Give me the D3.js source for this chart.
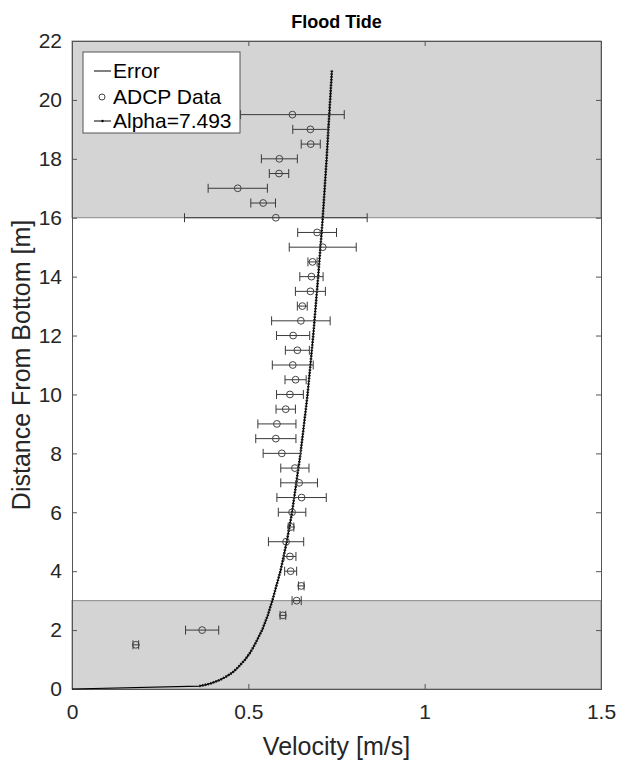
<!DOCTYPE html>
<html>
<head>
<meta charset="utf-8">
<script src="https://cdn.jsdelivr.net/npm/d3@7"></script>
<style>
  html, body { margin: 0; padding: 0; background: #fff; }
  svg { display: block; font-family: "Liberation Sans", Arial, sans-serif; }
</style>
</head>
<body>
<svg id="chart" width="621" height="760"></svg>
<script>
// ---- data ----
const heights = [19.5,19,18.5,18,17.5,17,16.5,16,15.5,15,14.5,14,13.5,13,12.5,12,11.5,11,10.5,10,9.5,9,8.5,8,7.5,7,6.5,6,5.5,5,4.5,4,3.5,3,2.5,2,1.5];
const velocity = [0.625,0.676,0.677,0.588,0.587,0.470,0.542,0.578,0.695,0.711,0.682,0.679,0.676,0.653,0.649,0.627,0.639,0.626,0.634,0.618,0.606,0.581,0.578,0.595,0.632,0.644,0.651,0.624,0.621,0.607,0.618,0.620,0.650,0.637,0.598,0.369,0.181];
const velError = [0.147,0.05,0.027,0.051,0.0275,0.084,0.035,0.259,0.055,0.095,0.013,0.033,0.0425,0.014,0.083,0.047,0.034,0.058,0.030,0.038,0.0275,0.054,0.057,0.053,0.040,0.052,0.070,0.039,0.008,0.050,0.017,0.017,0.008,0.013,0.008,0.047,0.008];

// fitted profile (Alpha = 7.493)
const profileZ = [0,0.1,0.15,0.2,0.3,0.4,0.5,0.6,0.75,1,1.25,1.5,2,2.5,3,4,5,6,8,10,12,14,16,18,20,21];
const profileU = [0,0.361,0.381,0.396,0.418,0.434,0.448,0.459,0.472,0.491,0.506,0.518,0.539,0.555,0.568,0.591,0.609,0.624,0.648,0.668,0.684,0.698,0.711,0.722,0.732,0.737];

// shaded (excluded) bands
const bands = [[16,22],[0,3]];

const xTicks = [0,0.5,1,1.5];
const yTicks = [0,2,4,6,8,10,12,14,16,18,20,22];

const title = "Flood Tide";
const xLabel = "Velocity [m/s]";
const yLabel = "Distance From Bottom [m]";
const legendLabels = ["Error","ADCP Data","Alpha=7.493"];

// ---- layout ----
const svg = d3.select("#chart");
const L = 72, R = 601, T = 41, B = 689;
const x = d3.scaleLinear().domain([0,1.5]).range([L,R]);
const y = d3.scaleLinear().domain([0,22]).range([B,T]);

// bands
svg.append("g").selectAll("rect").data(bands).join("rect")
  .attr("x", x(0)).attr("width", x(1.5)-x(0))
  .attr("y", d => y(d[1])).attr("height", d => y(d[0]) - y(d[1]))
  .attr("fill", "#d4d4d4").attr("stroke", "#8a8a8a").attr("stroke-width", 1);

// axes (ticks inside, box)
const fmt = d => d3.format("")(d);
const axB = d3.axisBottom(x).tickValues(xTicks).tickSize(-5).tickPadding(15).tickFormat(fmt);
const axT = d3.axisTop(x).tickValues(xTicks).tickSize(-5).tickFormat("");
const axLft = d3.axisLeft(y).tickValues(yTicks).tickSize(-5).tickPadding(10).tickFormat(fmt);
const axRt = d3.axisRight(y).tickValues(yTicks).tickSize(-5).tickFormat("");

function styleAxis(g){
  g.select(".domain").attr("stroke","#555");
  g.selectAll(".tick line").attr("stroke","#555");
  g.selectAll(".tick text").attr("fill","#262626").attr("font-size", 21)
    .attr("font-family", "'Liberation Sans', Arial, sans-serif");
}
svg.append("g").attr("transform",`translate(0,${B})`).call(axB).call(styleAxis);
svg.append("g").attr("transform",`translate(0,${T})`).call(axT).call(styleAxis);
svg.append("g").attr("transform",`translate(${L},0)`).call(axLft).call(styleAxis);
svg.append("g").attr("transform",`translate(${R},0)`).call(axRt).call(styleAxis);

// profile curve
const line = d3.line().x((d,i) => x(profileU[i])).y((d,i) => y(profileZ[i])).curve(d3.curveLinear);
svg.append("path").datum(profileZ).attr("d", line)
  .attr("fill","none").attr("stroke","#000").attr("stroke-width",1.2);
svg.append("path").datum(profileZ.slice(1)).attr("d", d3.line().x((d,i) => x(profileU[i+1])).y(d => y(d)))
  .attr("fill","none").attr("stroke","#111").attr("stroke-width",2.6).attr("stroke-dasharray","1.4,1.4");

// error bars
const eb = svg.append("g").attr("stroke","#3a3a3a").attr("stroke-width",1);
heights.forEach((h,i) => {
  const x0 = x(velocity[i]-velError[i]), x1 = x(velocity[i]+velError[i]), yy = y(h);
  eb.append("line").attr("x1",x0).attr("x2",x1).attr("y1",yy).attr("y2",yy);
  eb.append("line").attr("x1",x0).attr("x2",x0).attr("y1",yy-4.5).attr("y2",yy+4.5);
  eb.append("line").attr("x1",x1).attr("x2",x1).attr("y1",yy-4.5).attr("y2",yy+4.5);
});
// data circles
svg.append("g").selectAll("circle").data(heights).join("circle")
  .attr("cx",(d,i)=>x(velocity[i])).attr("cy",d=>y(d)).attr("r",3.4)
  .attr("fill","none").attr("stroke","#444").attr("stroke-width",1);

// legend
const lg = svg.append("g");
lg.append("rect").attr("x",83).attr("y",52).attr("width",157).attr("height",81)
  .attr("fill","#fff").attr("stroke","#555").attr("stroke-width",1);
const ly = [71,97,121];
lg.append("line").attr("x1",94).attr("x2",111).attr("y1",ly[0]).attr("y2",ly[0]).attr("stroke","#000");
lg.append("circle").attr("cx",102).attr("cy",ly[1]).attr("r",3).attr("fill","none").attr("stroke","#444");
lg.append("line").attr("x1",94).attr("x2",111).attr("y1",ly[2]).attr("y2",ly[2]).attr("stroke","#000");
lg.append("circle").attr("cx",102.5).attr("cy",ly[2]).attr("r",1.2).attr("fill","#000");
lg.selectAll("text").data(legendLabels).join("text")
  .attr("x",113).attr("y",(d,i)=>ly[i]).attr("dy","0.35em")
  .attr("font-size",21).attr("fill","#000").text(d=>d);

// title and labels
svg.append("text").attr("x",(L+R)/2).attr("y",28).attr("text-anchor","middle")
  .attr("font-weight","bold").attr("font-size",18).attr("fill","#000").text(title);
svg.append("text").attr("x",(L+R)/2).attr("y",755).attr("text-anchor","middle")
  .attr("font-size",25).attr("fill","#262626").text(xLabel);
svg.append("text").attr("transform",`translate(30,${(T+B)/2}) rotate(-90)`).attr("text-anchor","middle")
  .attr("font-size",25).attr("fill","#262626").text(yLabel);
</script>
</body>
</html>
